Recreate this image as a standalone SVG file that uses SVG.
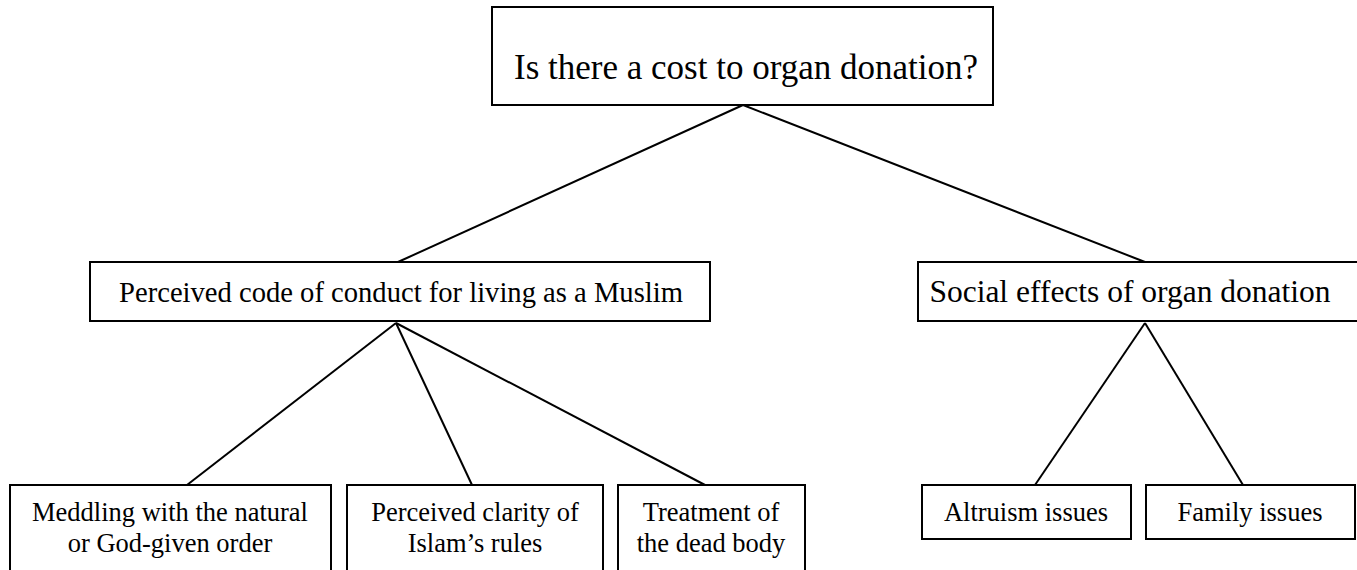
<svg xmlns="http://www.w3.org/2000/svg" width="1357" height="570" viewBox="0 0 1357 570">
<style>
.box{fill:#fff;stroke:#000;stroke-width:2}
.t{font-family:"Liberation Serif","Times New Roman",serif;fill:#000;text-anchor:middle}
.s{font-size:26.5px}
.c{stroke:#000;stroke-width:2;fill:none}
</style>
<rect x="0" y="0" width="1357" height="570" fill="#fff"/>
<g id="connectors">
<line class="c" x1="743" y1="105" x2="398" y2="262"/>
<line class="c" x1="743" y1="105" x2="1145" y2="262"/>
<line class="c" x1="396" y1="323" x2="187" y2="485"/>
<line class="c" x1="396" y1="323" x2="472" y2="485"/>
<line class="c" x1="396" y1="323" x2="705" y2="485"/>
<line class="c" x1="1145" y1="323" x2="1035" y2="485"/>
<line class="c" x1="1145" y1="323" x2="1243" y2="485"/>
</g>
<g id="root">
<rect class="box" x="492" y="7" width="501" height="98"/>
<text class="t" x="746" y="79" font-size="35">Is there a cost to organ donation?</text>
</g>
<g id="code">
<rect class="box" x="90" y="262" width="620" height="59"/>
<text class="t" x="401" y="302" font-size="28.6">Perceived code of conduct for living as a Muslim</text>
</g>
<g id="social">
<rect class="box" x="918" y="262" width="445" height="59"/>
<text class="t" x="1130" y="302" font-size="31.5">Social effects of organ donation</text>
</g>
<g id="meddling">
<rect class="box" x="10" y="485" width="321" height="95"/>
<text class="t s" x="170" y="521">Meddling with the natural</text>
<text class="t s" x="170" y="552">or God-given order</text>
</g>
<g id="clarity">
<rect class="box" x="347" y="485" width="256" height="95"/>
<text class="t s" x="475" y="521">Perceived clarity of</text>
<text class="t s" x="475" y="552">Islam’s rules</text>
</g>
<g id="treatment">
<rect class="box" x="618" y="485" width="187" height="95"/>
<text class="t s" x="711" y="521">Treatment of</text>
<text class="t s" x="711" y="552">the dead body</text>
</g>
<g id="altruism">
<rect class="box" x="922" y="485" width="209" height="54"/>
<text class="t s" x="1026" y="521">Altruism issues</text>
</g>
<g id="family">
<rect class="box" x="1146" y="485" width="209" height="54"/>
<text class="t s" x="1250" y="521">Family issues</text>
</g>
</svg>
